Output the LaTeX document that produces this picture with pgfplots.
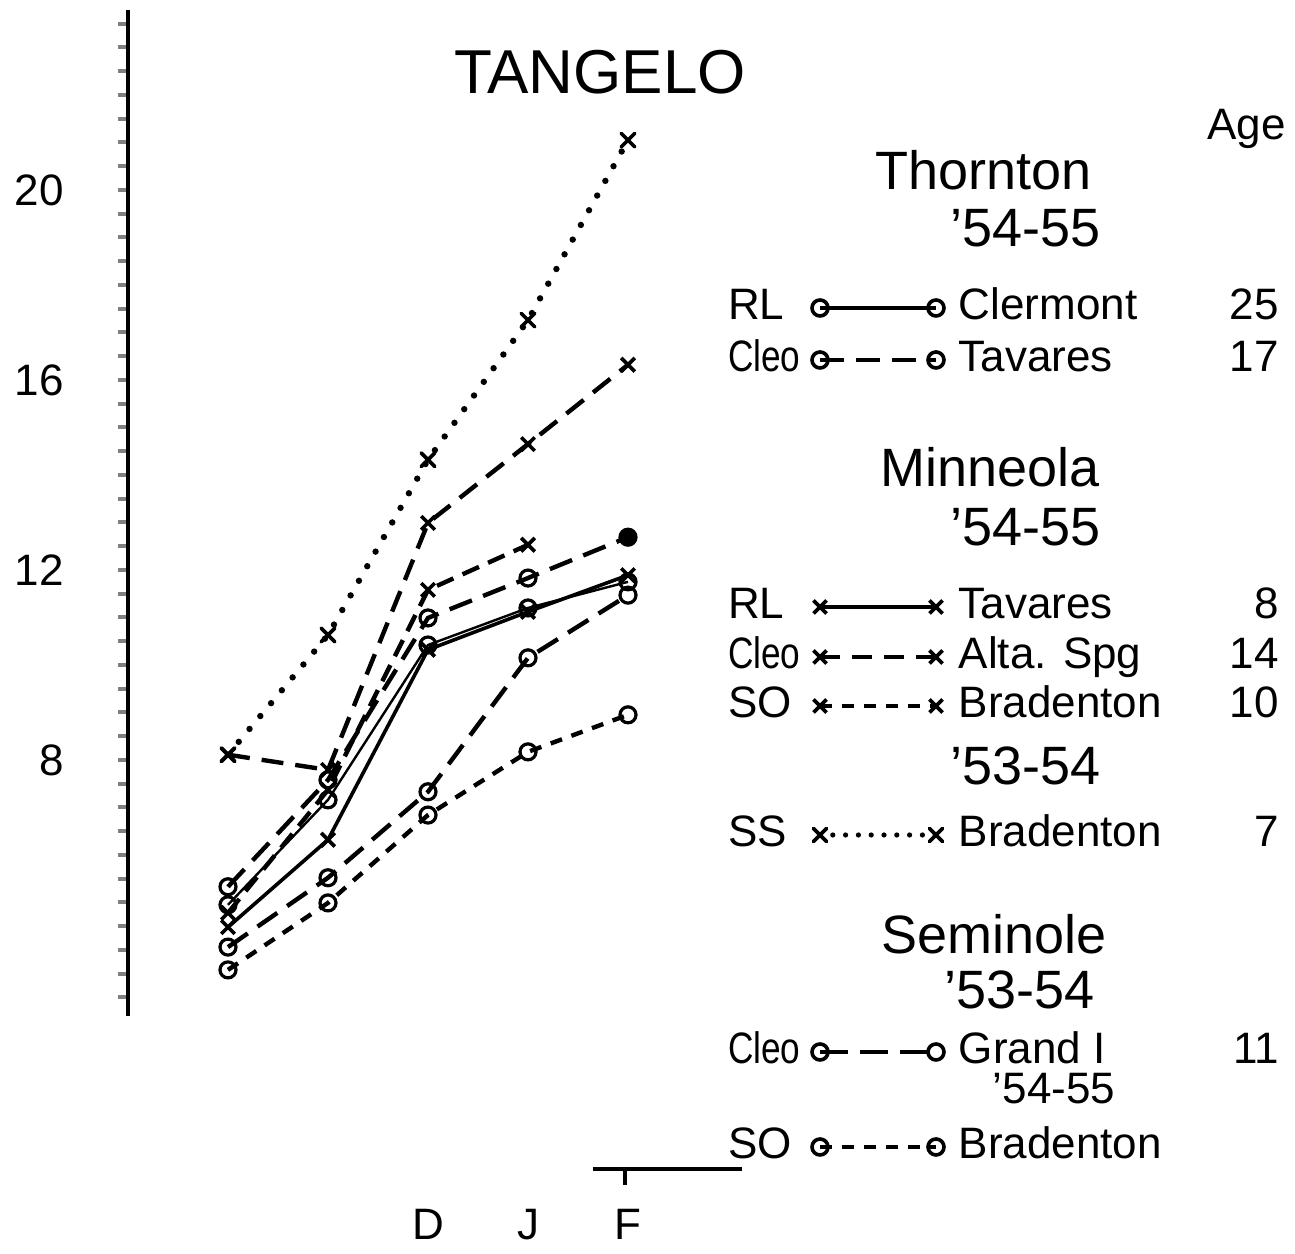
\documentclass[border=0pt]{standalone}
\usepackage{fontspec}
\setmainfont{Liberation Sans}
\usepackage{pgfplots}
\pgfplotsset{compat=1.18}

% header line in the key: strut height, left shift, text
\newcommand{\hd}[3]{\rule{0pt}{#1}\smash{\makebox[0pt][l]{\hspace*{#2}\fontsize{13.5}{15}\selectfont #3}}}
% sample line in the key: strut height, name, age
\newcommand{\rw}[3]{\rule{0pt}{#1}\smash{\makebox[80pt]{#2\hfill #3}}}

\pgfplotsset{
  pfx/.style={legend image code/.code={%
      \node[anchor=base west,inner sep=0pt] at (0pt,0pt) {\smash{#1}};
      \draw[##1] plot coordinates {(23pt,3pt) (52pt,3pt)};}},
}

\begin{document}
\begin{tikzpicture}
\begin{axis}[
  width=291.75pt, height=251.5pt, scale only axis,
  xmin=-1, xmax=10.67, ymin=2.61, ymax=23.79,
  clip=false,
  axis lines*=left,
  x axis line style={draw=none},
  y axis line style={line width=1pt},
  xtick={2,3,4}, xticklabels={D,J,F},
  xtick style={draw=none},
  xticklabel style={anchor=base, yshift=-53.5pt, font=\fontsize{11}{13}\selectfont},
  ytick={8,12,16,20},
  minor ytick={3,3.5,...,23.5},
  tick align=outside,
  ytick style={line width=1pt},
  major tick length=2.5pt, minor tick length=2.5pt,
  yticklabel style={font=\fontsize{11}{13}\selectfont, xshift=-10pt},
  /pgf/number format/assume math mode=true,
  legend style={draw=none, fill=none, inner sep=0pt, outer sep=0pt,
    row sep=0pt, column sep=3.7pt,
    cells={anchor=base west}, nodes={inner sep=0pt, text depth=0pt},
    font=\fontsize{11}{13}\selectfont,
    at={(axis cs:5,21.895)}, anchor=north west},
]

% SS Bradenton '53-54 (dotted)
\addplot[forget plot, line width=1.6pt, line cap=round, dash pattern=on 0pt off 4.2pt,
  mark=x, mark size=2.4pt, mark options={solid, line width=0.9pt}]
  coordinates {(0,8.11) (1,10.63) (2,14.32) (3,17.26) (4,21.05)};
% long dash x
\addplot[forget plot, line width=1.1pt, dash pattern=on 5.5pt off 3pt,
  mark=x, mark size=2.4pt, mark options={solid, line width=0.9pt}]
  coordinates {(0,8.11) (1,7.79) (2,12.99) (3,14.65) (4,16.32)};
% dash x, ends in January
\addplot[forget plot, line width=1.1pt, dash pattern=on 4.5pt off 2.5pt,
  mark=x, mark size=2.4pt, mark options={solid, line width=0.9pt}]
  coordinates {(0,4.78) (1,7.37) (2,11.58) (3,12.53)};
% long dash circles
\addplot[forget plot, line width=1.1pt, dash pattern=on 6pt off 3pt,
  mark=o, mark size=2pt, mark options={solid, line width=0.8pt}]
  coordinates {(0,5.33) (1,7.58) (2,10.99) (3,11.83) (4,12.69)};
\addplot[forget plot, only marks, mark=*, mark size=2pt]
  coordinates {(4,12.69)};
% solid x
\addplot[forget plot, line width=0.9pt,
  mark=x, mark size=2.4pt, mark options={solid, line width=0.9pt}]
  coordinates {(0,4.48) (1,6.32) (2,10.32) (3,11.12) (4,11.89)};
% thin solid circles
\addplot[forget plot, line width=0.6pt,
  mark=o, mark size=2pt, mark options={solid, line width=0.8pt}]
  coordinates {(0,4.95) (1,7.16) (2,10.42) (3,11.20) (4,11.75)};
% long dash circles (Grand I)
\addplot[forget plot, line width=1.1pt, dash pattern=on 6pt off 3pt,
  mark=o, mark size=2pt, mark options={solid, line width=0.8pt}]
  coordinates {(0,4.06) (1,5.52) (2,7.33) (3,10.15) (4,11.47)};
% short dash circles
\addplot[forget plot, line width=1.1pt, dash pattern=on 3pt off 2.5pt,
  mark=o, mark size=2pt, mark options={solid, line width=0.8pt}]
  coordinates {(0,3.58) (1,4.99) (2,6.84) (3,8.17) (4,8.95)};

% key
\addlegendimage{empty legend}\addlegendentry{\rule{0pt}{10pt}\smash{\makebox[81.75pt][r]{Age}}}
\addlegendimage{empty legend}\addlegendentry{\hd{12.5pt}{-21.25pt}{Thornton}}
\addlegendimage{empty legend}\addlegendentry{\hd{14.25pt}{-2.5pt}{’54-55}}
\addlegendimage{pfx=RL, line width=0.9pt, mark=o, mark size=2pt, mark options={solid}}
\addlegendentry{\rw{18.25pt}{Clermont}{25}}
\addlegendimage{pfx={\scalebox{0.8}[1]{Cleo}}, line width=0.9pt, dash pattern=on 6pt off 3pt, mark=o, mark size=2pt, mark options={solid}}
\addlegendentry{\rw{12.5pt}{Tavares}{17}}
\addlegendimage{empty legend}\addlegendentry{\hd{28.25pt}{-20pt}{Minneola}}
\addlegendimage{empty legend}\addlegendentry{\hd{14.75pt}{-2.5pt}{’54-55}}
\addlegendimage{pfx=RL, line width=0.9pt, mark=x, mark size=2.3pt, mark options={solid}}
\addlegendentry{\rw{18.25pt}{Tavares}{8}}
\addlegendimage{pfx={\scalebox{0.8}[1]{Cleo}}, line width=0.9pt, dash pattern=on 5pt off 3pt, mark=x, mark size=2.3pt, mark options={solid}}
\addlegendentry{\rw{12pt}{Alta. Spg}{14}}
\addlegendimage{pfx=SO, line width=0.9pt, dash pattern=on 3pt off 2.5pt, mark=x, mark size=2.3pt, mark options={solid}}
\addlegendentry{\rw{11.75pt}{Bradenton}{10}}
\addlegendimage{empty legend}\addlegendentry{\hd{16.25pt}{-2.5pt}{’53-54}}
\addlegendimage{pfx=SS, line width=1.3pt, line cap=round, dash pattern=on 0pt off 3.2pt, mark=x, mark size=2.3pt, mark options={solid, line width=0.9pt}}
\addlegendentry{\rw{15.5pt}{Bradenton}{7}}
\addlegendimage{empty legend}\addlegendentry{\hd{26.25pt}{-19.75pt}{Seminole}}
\addlegendimage{empty legend}\addlegendentry{\hd{13.75pt}{-4pt}{’53-54}}
\addlegendimage{pfx={\scalebox{0.8}[1]{Cleo}}, line width=0.9pt, dash pattern=on 7pt off 3pt, mark=o, mark size=2pt, mark options={solid}}
\addlegendentry{\rw{13.75pt}{Grand I}{11}}
\addlegendimage{empty legend}\addlegendentry{\rule{0pt}{9.5pt}\smash{\makebox[0pt][l]{\hspace*{8pt}\fontsize{11}{13}\selectfont ’54-55}}}
\addlegendimage{pfx=SO, line width=0.9pt, dash pattern=on 3pt off 2.5pt, mark=o, mark size=2pt, mark options={solid}}
\addlegendentry{\rw{13.75pt}{Bradenton}{}}

\node[font=\fontsize{15.5}{18}\selectfont] at (axis cs:3.72,22.48) {TANGELO};
% fragment of the month axis
\draw[line width=1pt] (axis cs:3.65,-0.61) -- (axis cs:5.14,-0.61);
\draw[line width=1pt] (axis cs:3.97,-0.61) -- (axis cs:3.97,-0.95);
% page extent
\path (axis cs:-2.28,-1.979) rectangle (axis cs:10.67,24.0);
\end{axis}
\end{tikzpicture}
\end{document}
